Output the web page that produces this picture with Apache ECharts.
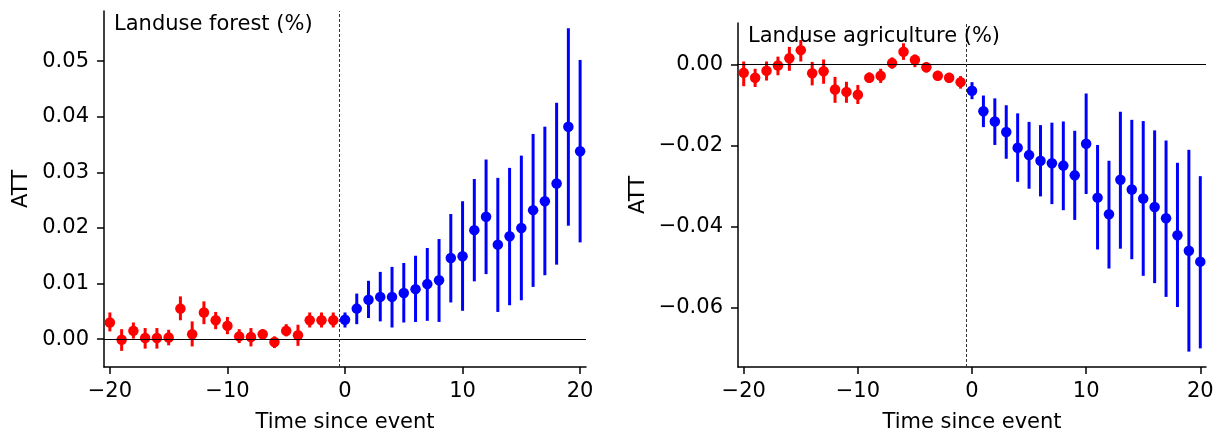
<!DOCTYPE html>
<html>
<head>
<meta charset="utf-8">
<script src="https://cdn.jsdelivr.net/npm/echarts@6/dist/echarts.min.js"></script>
<style>
  html, body { margin: 0; padding: 0; background: #fff; }
  #chart { width: 1225px; height: 438px; }
</style>
</head>
<body>
<div id="chart"></div>
<script>
var chart = echarts.init(document.getElementById('chart'));

// event time, -20 .. 20
var years = [-20,-19,-18,-17,-16,-15,-14,-13,-12,-11,-10,-9,-8,-7,-6,-5,-4,-3,-2,-1,
             0,1,2,3,4,5,6,7,8,9,10,11,12,13,14,15,16,17,18,19,20];

// Landuse forest (%)
var forestAtt = [0.0030,-0.0001,0.0015,0.0002,0.0002,0.0003,0.0055,0.0009,0.0048,0.0034,0.0024,0.0005,0.0004,0.0009,-0.0005,0.0015,0.0007,0.0034,0.0034,0.0034,
                 0.0035,0.0055,0.0071,0.0076,0.0076,0.0083,0.0090,0.0099,0.0106,0.0146,0.0149,0.0196,0.0220,0.0170,0.0185,0.0200,0.0232,0.0248,0.0280,0.0382,0.0338];
var forestLo  = [0.0014,-0.0021,0.0001,-0.0017,-0.0017,-0.0011,0.0034,-0.0013,0.0027,0.0018,0.0009,-0.0007,-0.0013,0.0000,-0.0016,0.0005,-0.0012,0.0021,0.0021,0.0021,
                 0.0021,0.0027,0.0038,0.0032,0.0021,0.0030,0.0031,0.0033,0.0031,0.0066,0.0051,0.0104,0.0117,0.0049,0.0061,0.0070,0.0094,0.0115,0.0134,0.0204,0.0174];
var forestHi  = [0.0048,0.0018,0.0030,0.0020,0.0020,0.0017,0.0077,0.0032,0.0068,0.0049,0.0040,0.0018,0.0020,0.0018,0.0005,0.0027,0.0026,0.0048,0.0048,0.0048,
                 0.0048,0.0082,0.0105,0.0121,0.0130,0.0137,0.0150,0.0164,0.0180,0.0225,0.0248,0.0288,0.0323,0.0290,0.0308,0.0330,0.0369,0.0382,0.0425,0.0559,0.0502];

// Landuse agriculture (%)
var agriAtt = [-0.0021,-0.0033,-0.0016,-0.0003,0.0015,0.0035,-0.0022,-0.0017,-0.0062,-0.0068,-0.0075,-0.0033,-0.0028,0.0003,0.0031,0.0011,-0.0007,-0.0028,-0.0033,-0.0044,
               -0.0065,-0.0116,-0.0141,-0.0167,-0.0206,-0.0224,-0.0238,-0.0244,-0.0250,-0.0274,-0.0196,-0.0329,-0.0370,-0.0285,-0.0309,-0.0331,-0.0352,-0.0380,-0.0422,-0.0460,-0.0487];
var agriLo  = [-0.0054,-0.0056,-0.0040,-0.0027,-0.0016,0.0007,-0.0052,-0.0048,-0.0095,-0.0095,-0.0098,-0.0046,-0.0046,-0.0011,0.0011,-0.0007,-0.0020,-0.0040,-0.0046,-0.0060,
               -0.0086,-0.0155,-0.0199,-0.0233,-0.0290,-0.0307,-0.0326,-0.0345,-0.0360,-0.0384,-0.0320,-0.0457,-0.0504,-0.0455,-0.0481,-0.0522,-0.0540,-0.0574,-0.0599,-0.0709,-0.0701];
var agriHi  = [0.0007,-0.0011,0.0007,0.0019,0.0043,0.0060,0.0006,0.0012,-0.0031,-0.0043,-0.0051,-0.0020,-0.0011,0.0017,0.0052,0.0024,0.0005,-0.0016,-0.0021,-0.0029,
               -0.0044,-0.0077,-0.0084,-0.0101,-0.0121,-0.0142,-0.0150,-0.0144,-0.0141,-0.0164,-0.0072,-0.0199,-0.0238,-0.0117,-0.0137,-0.0140,-0.0163,-0.0188,-0.0243,-0.0211,-0.0276];

var xTicks = [-20, -10, 0, 10, 20];
var forestTicks = [0, 0.01, 0.02, 0.03, 0.04, 0.05];
var agriTicks = [-0.06, -0.04, -0.02, 0];

var FONT = 'DejaVu Sans';
var PRE = '#ff0000', POST = '#0000ff';

function minus(s) { return String(s).replace('-', '\u2212'); }

function barData(att, lo, hi) {
    return years.map(function (y, i) { return [y, lo[i], hi[i]]; });
}
function dotData(att) {
    return years.map(function (y, i) {
        return { value: [y, att[i]], itemStyle: { color: y < 0 ? PRE : POST, opacity: 1 } };
    });
}

function renderBar(params, api) {
    var x = api.value(0);
    var p1 = api.coord([x, api.value(1)]);
    var p2 = api.coord([x, api.value(2)]);
    return {
        type: 'line',
        shape: { x1: p1[0], y1: p1[1], x2: p2[0], y2: p2[1] },
        style: { stroke: x < 0 ? PRE : POST, lineWidth: 3 }
    };
}

function xAxis(idx) {
    return {
        type: 'value', gridIndex: idx, min: -20.5, max: 20.5,
        name: 'Time since event', nameLocation: 'middle', nameGap: 45,
        nameTextStyle: { fontFamily: FONT, fontSize: 21, color: '#000' },
        axisLine: { onZero: false, lineStyle: { color: '#000', width: 1.5 } },
        axisTick: { customValues: xTicks, length: 7, lineStyle: { color: '#000', width: 1.5 } },
        axisLabel: { customValues: xTicks, margin: 14, fontFamily: FONT, fontSize: 21, color: '#000',
                     formatter: function (v) { return minus(v); } },
        splitLine: { show: false }
    };
}
function yAxis(idx, min, max, ticks, gap) {
    return {
        type: 'value', gridIndex: idx, min: min, max: max,
        name: 'ATT', nameLocation: 'middle', nameGap: gap,
        nameTextStyle: { fontFamily: FONT, fontSize: 21, color: '#000' },
        axisLine: { show: true, onZero: false, lineStyle: { color: '#000', width: 1.5 } },
        axisTick: { show: true, customValues: ticks, length: 7, lineStyle: { color: '#000', width: 1.5 } },
        axisLabel: { customValues: ticks, margin: 15, fontFamily: FONT, fontSize: 21, color: '#000',
                     formatter: function (v) { return minus(v.toFixed(2)); } },
        splitLine: { show: false }
    };
}

function refLines() {
    return {
        silent: true, symbol: 'none', label: { show: false },
        data: [
            { yAxis: 0, lineStyle: { color: '#000', width: 1, type: 'solid' } },
            { xAxis: -0.5, lineStyle: { color: '#333', width: 1, type: [3, 2] } }
        ]
    };
}

var option = {
    animation: false,
    backgroundColor: '#fff',
    grid: [
        { left: 104, top: 11, width: 482, height: 358 },
        { left: 738, top: 23, width: 468, height: 349 }
    ],
    xAxis: [xAxis(0), xAxis(1)],
    yAxis: [
        yAxis(0, -0.005, 0.059, forestTicks, 72),
        yAxis(1, -0.0747, 0.0102, agriTicks, 89)
    ],
    graphic: [
        { type: 'text', left: 114, top: 14, z: 100,
          style: { text: 'Landuse forest (%)', font: '21px "DejaVu Sans"', fill: '#000' } },
        { type: 'text', left: 748, top: 26, z: 100,
          style: { text: 'Landuse agriculture (%)', font: '21px "DejaVu Sans"', fill: '#000' } }
    ],
    series: [
        { type: 'custom', xAxisIndex: 0, yAxisIndex: 0, renderItem: renderBar,
          encode: { x: 0, y: [1, 2] }, data: barData(forestAtt, forestLo, forestHi),
          markLine: refLines(), z: 2 },
        { type: 'scatter', xAxisIndex: 0, yAxisIndex: 0, symbolSize: 10.5,
          data: dotData(forestAtt), z: 3 },
        { type: 'custom', xAxisIndex: 1, yAxisIndex: 1, renderItem: renderBar,
          encode: { x: 0, y: [1, 2] }, data: barData(agriAtt, agriLo, agriHi),
          markLine: refLines(), z: 2 },
        { type: 'scatter', xAxisIndex: 1, yAxisIndex: 1, symbolSize: 10.5,
          data: dotData(agriAtt), z: 3 }
    ]
};

chart.setOption(option);
</script>
</body>
</html>
